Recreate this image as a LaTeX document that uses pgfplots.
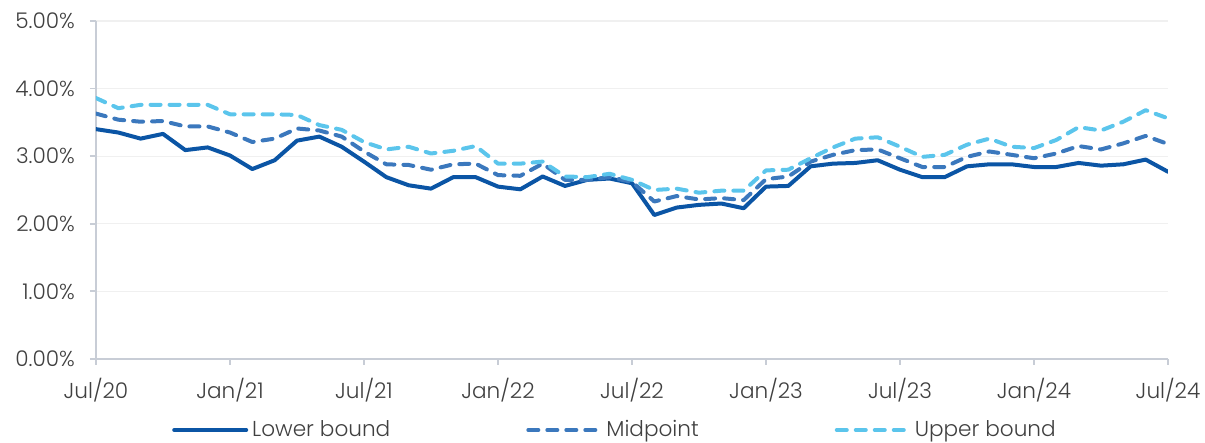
\documentclass[border=0pt]{standalone}
\usepackage{fontspec}
\setmainfont{Poppins}[UprightFont=* Light]
\usepackage{pgfplots}
\pgfplotsset{compat=1.18}
\definecolor{lowc}{HTML}{0B55A5}
\definecolor{midc}{HTML}{3B78BD}
\definecolor{upc}{HTML}{5BC5EC}
\definecolor{txt}{HTML}{404040}
\definecolor{axc}{HTML}{C8CDD6}
\definecolor{gridc}{HTML}{F0F0F0}
\begin{document}
\begin{tikzpicture}
\begin{axis}[
  scale only axis,
  width=536pt, height=169pt,
  xmin=0, xmax=48, ymin=0, ymax=5,
  axis x line=bottom, axis y line=left,
  axis line style={-, draw=axc, line width=0.9pt},
  xtick={0,6,...,48},
  xticklabels={Jul/20,Jan/21,Jul/21,Jan/22,Jul/22,Jan/23,Jul/23,Jan/24,Jul/24},
  ytick={0,1,2,3,4,5},
  yticklabels={0.00\%,1.00\%,2.00\%,3.00\%,4.00\%,5.00\%},
  tick align=outside,
  major tick length=3pt,
  tick style={draw=axc, line width=0.9pt},
  ymajorgrids, grid style={draw=gridc, line width=0.6pt},
  ticklabel style={font=\fontsize{10.8}{12}\selectfont, text=txt},
  xticklabel style={yshift=-3pt},
  yticklabel style={xshift=-4pt},
  /pgf/number format/assume math mode=true,
  legend columns=3,
  legend style={at={(0.5,0)}, anchor=center, yshift=-35.5pt, xshift=-8pt,
    draw=none, fill=none, font=\fontsize{10.8}{12}\selectfont, text=txt,
    /tikz/every even column/.append style={column sep=66pt}},
  legend image code/.code={\draw[#1] (0pt,0pt) -- (36pt,0pt);},
  every axis plot/.append style={line width=2pt, line join=round},
]
\addplot[lowc, line cap=round] table[x=i,y=v] {
i v
0 3.40
1 3.35
2 3.26
3 3.33
4 3.09
5 3.13
6 3.01
7 2.81
8 2.94
9 3.23
10 3.29
11 3.14
12 2.92
13 2.69
14 2.57
15 2.52
16 2.69
17 2.69
18 2.55
19 2.51
20 2.70
21 2.56
22 2.65
23 2.67
24 2.60
25 2.13
26 2.24
27 2.28
28 2.30
29 2.23
30 2.55
31 2.56
32 2.85
33 2.89
34 2.90
35 2.94
36 2.80
37 2.69
38 2.69
39 2.85
40 2.88
41 2.88
42 2.84
43 2.84
44 2.90
45 2.86
46 2.88
47 2.95
48 2.77
};
\addlegendentry{Lower bound}
\addplot[midc, line cap=round, dash pattern=on 5pt off 4.5pt] table[x=i,y=v] {
i v
0 3.63
1 3.54
2 3.51
3 3.52
4 3.44
5 3.44
6 3.35
7 3.21
8 3.26
9 3.41
10 3.38
11 3.29
12 3.07
13 2.88
14 2.87
15 2.80
16 2.88
17 2.89
18 2.72
19 2.71
20 2.89
21 2.65
22 2.65
23 2.69
24 2.62
25 2.33
26 2.41
27 2.36
28 2.38
29 2.35
30 2.66
31 2.70
32 2.92
33 3.02
34 3.09
35 3.10
36 2.97
37 2.84
38 2.84
39 2.99
40 3.07
41 3.02
42 2.97
43 3.04
44 3.15
45 3.10
46 3.19
47 3.30
48 3.18
};
\addlegendentry{Midpoint}
\addplot[upc, line cap=round, dash pattern=on 5pt off 4.5pt] table[x=i,y=v] {
i v
0 3.86
1 3.71
2 3.76
3 3.76
4 3.76
5 3.76
6 3.62
7 3.62
8 3.62
9 3.61
10 3.46
11 3.39
12 3.21
13 3.10
14 3.14
15 3.04
16 3.08
17 3.15
18 2.89
19 2.89
20 2.92
21 2.70
22 2.69
23 2.74
24 2.65
25 2.50
26 2.52
27 2.46
28 2.49
29 2.49
30 2.79
31 2.80
32 2.97
33 3.13
34 3.26
35 3.28
36 3.14
37 2.99
38 3.02
39 3.17
40 3.26
41 3.14
42 3.12
43 3.24
44 3.43
45 3.38
46 3.51
47 3.68
48 3.56
};
\addlegendentry{Upper bound}
\end{axis}
\pgfresetboundingbox
\path[use as bounding box] (-48pt,-42pt) rectangle (554.5pt,179.5pt);
\end{tikzpicture}
\end{document}
